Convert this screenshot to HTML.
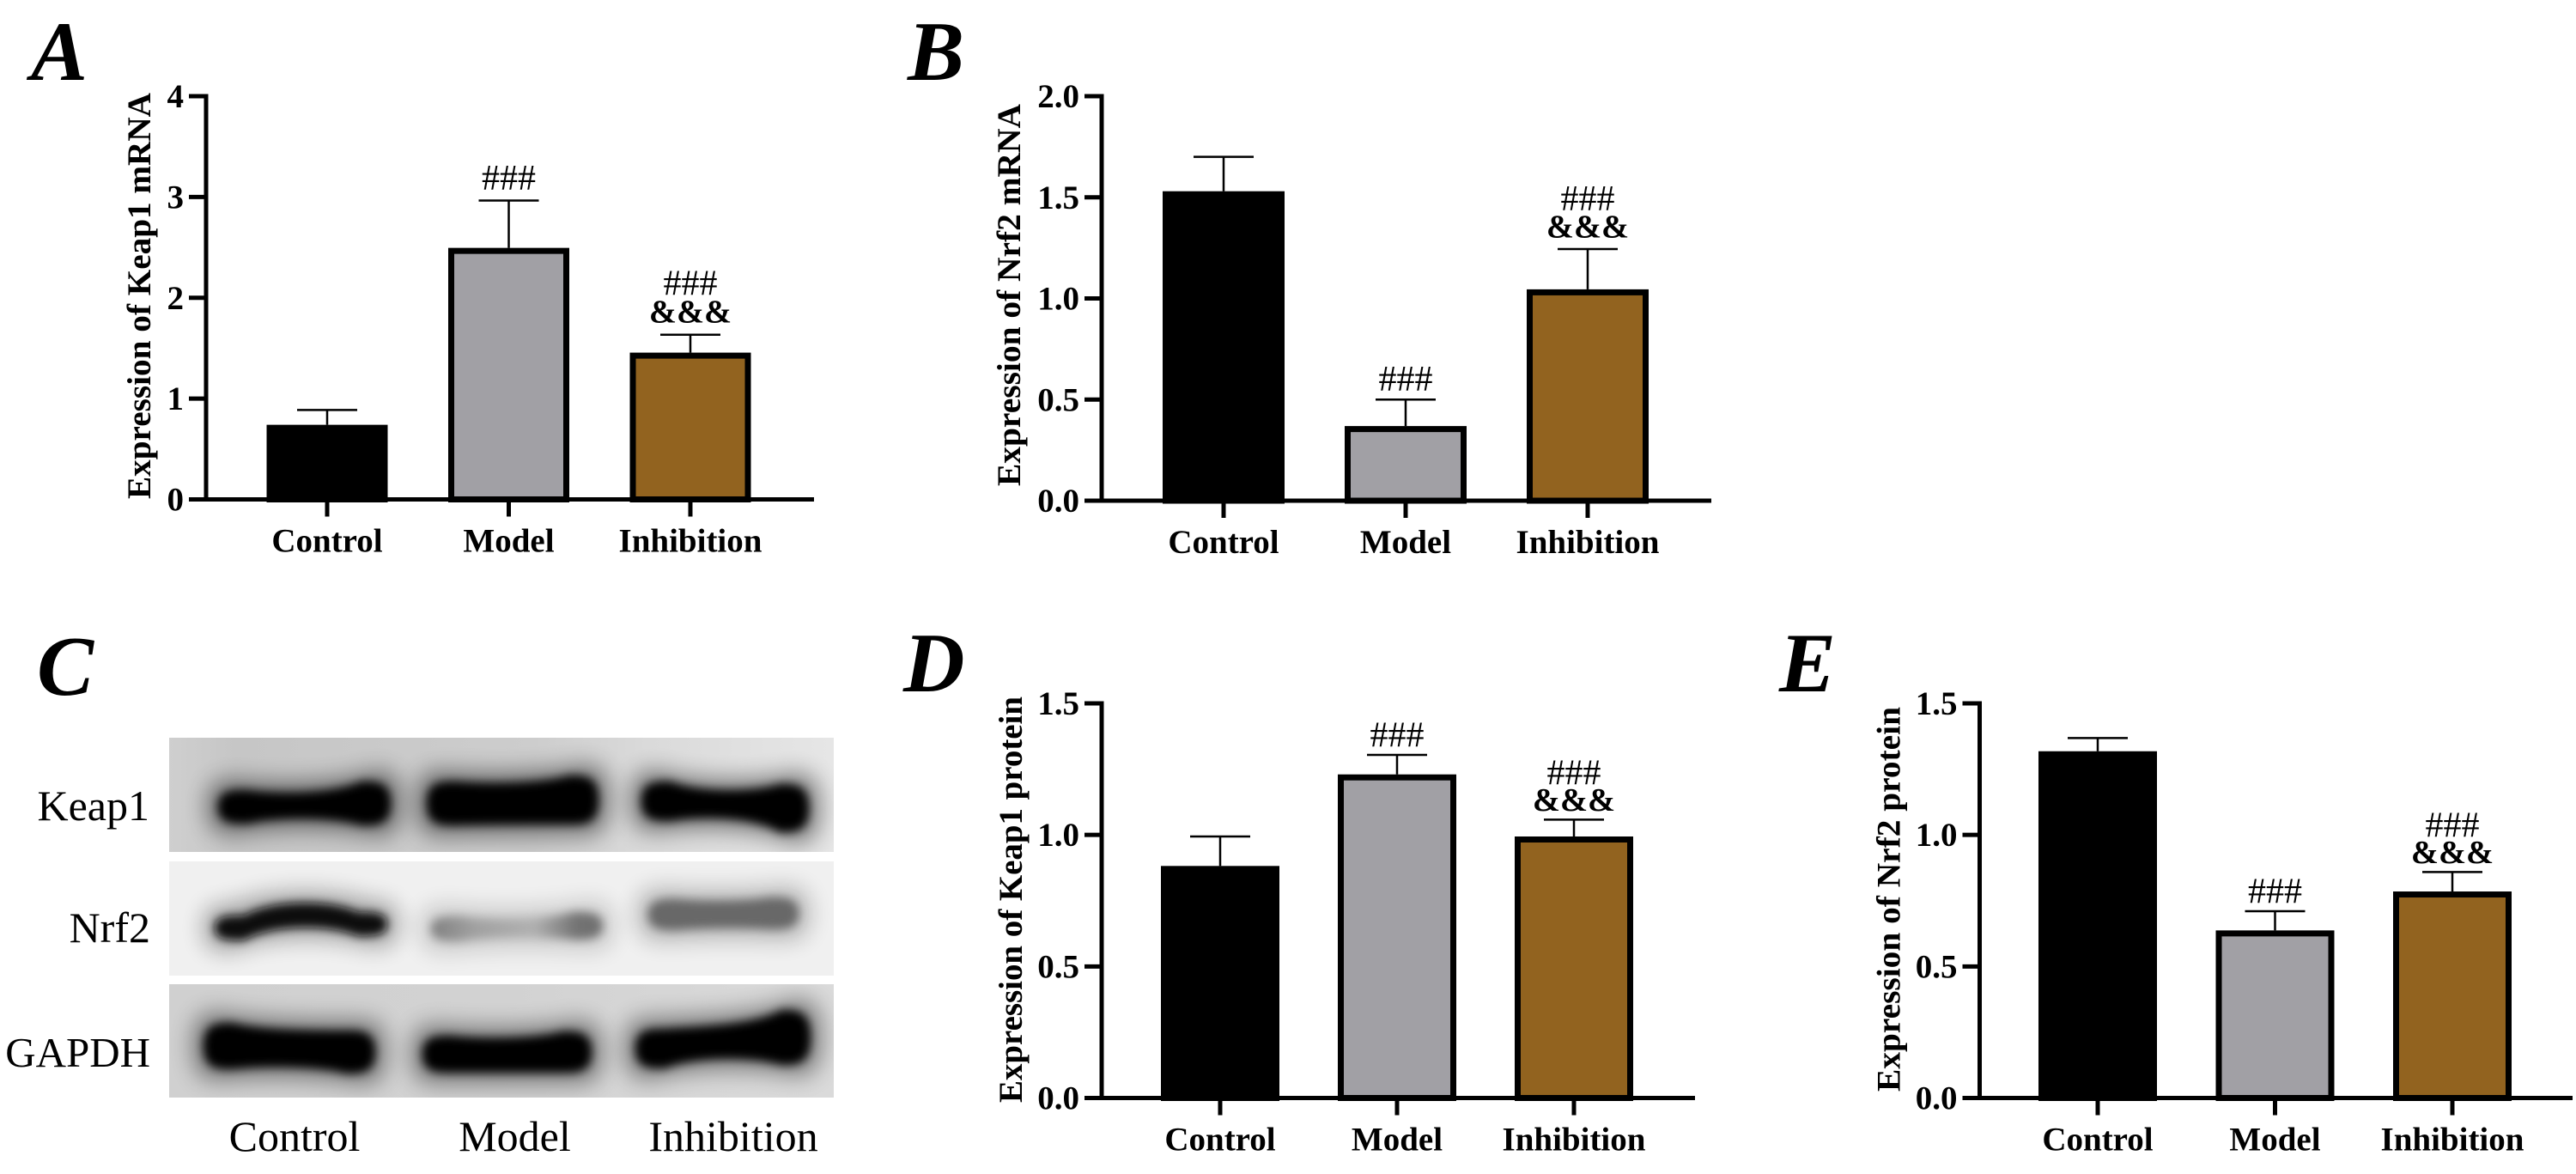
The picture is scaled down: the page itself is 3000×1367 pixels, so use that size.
<!DOCTYPE html>
<html lang="en">
<head>
<meta charset="utf-8">
<title>Keap1 and Nrf2 expression</title>
<style>
html,body{margin:0;padding:0;background:#fff;width:3000px;height:1367px;overflow:hidden}
svg{display:block}
text{font-family:"Liberation Serif",serif}
</style>
</head>
<body>
<svg id="figure" xmlns="http://www.w3.org/2000/svg" width="3000" height="1367" viewBox="0 0 3000 1367">
  <defs>
    <filter id="core-blur" x="-20%" y="-80%" width="140%" height="260%"><feGaussianBlur stdDeviation="5.5"/></filter>
    <filter id="halo-blur" x="-30%" y="-120%" width="160%" height="340%"><feGaussianBlur stdDeviation="13"/></filter>
    <clipPath id="clip-row-1"><rect x="197" y="859" width="774" height="133"/></clipPath>
    <clipPath id="clip-row-2"><rect x="197" y="1003" width="774" height="133"/></clipPath>
    <clipPath id="clip-row-3"><rect x="197" y="1146" width="774" height="132"/></clipPath>
    <linearGradient id="row-1-fill" x1="0" x2="1" y1="0" y2="0">
      <stop offset="0" stop-color="#cfcfcf"/><stop offset="0.1" stop-color="#c6c6c6"/>
      <stop offset="0.55" stop-color="#cdcdcd"/><stop offset="0.72" stop-color="#dadada"/>
      <stop offset="1" stop-color="#e6e6e6"/>
    </linearGradient>
    <linearGradient id="row-3-fill" x1="0" x2="1" y1="0" y2="0">
      <stop offset="0" stop-color="#d0d0d0"/><stop offset="0.5" stop-color="#d2d2d2"/>
      <stop offset="1" stop-color="#dadada"/>
    </linearGradient>
    <linearGradient id="nrf2-model-fill" x1="0" x2="1" y1="0" y2="0">
      <stop offset="0" stop-color="#808080"/><stop offset="0.25" stop-color="#a0a0a0"/>
      <stop offset="0.6" stop-color="#b0b0b0"/><stop offset="0.85" stop-color="#727272"/>
      <stop offset="1" stop-color="#707070"/>
    </linearGradient>
  </defs>

  <text x="36" y="93" font-size="99" font-weight="bold" font-style="italic">A</text>
  <text x="1057" y="93" font-size="99" font-weight="bold" font-style="italic">B</text>
  <text x="43" y="809" font-size="99" font-weight="bold" font-style="italic">C</text>
  <text x="1052" y="805" font-size="99" font-weight="bold" font-style="italic">D</text>
  <text x="2072" y="805" font-size="99" font-weight="bold" font-style="italic">E</text>

  <g id="blot">
    <rect x="197" y="859" width="774" height="133" fill="url(#row-1-fill)"/>
    <rect x="197" y="1003" width="774" height="133" fill="#f0f0f0"/>
    <rect x="197" y="1146" width="774" height="132" fill="url(#row-3-fill)"/>
    <g id="row-1" clip-path="url(#clip-row-1)"></g>
    <g id="row-2" clip-path="url(#clip-row-2)"></g>
    <g id="row-3" clip-path="url(#clip-row-3)"></g>
    <text x="174" y="955" font-size="50" text-anchor="end">Keap1</text>
    <text x="175" y="1097" font-size="50" text-anchor="end">Nrf2</text>
    <text x="175" y="1242" font-size="49" text-anchor="end">GAPDH</text>
    <text x="343" y="1340" font-size="50" text-anchor="middle">Control</text>
    <text x="599.5" y="1340" font-size="50" text-anchor="middle">Model</text>
    <text x="854" y="1340" font-size="50" text-anchor="middle">Inhibition</text>
  </g>
</svg>

<script>
// ---- chart data ----
const categories = ['Control', 'Model', 'Inhibition'];
const barColors = ['#000000', '#a1a0a5', '#92631f'];

const keap1MrnaValues = [0.74, 2.495, 1.456];
const keap1MrnaErrors = [0.147, 0.47, 0.178];
const keap1MrnaTicks = [0, 1, 2, 3, 4];
const keap1MrnaTickLabels = ['0', '1', '2', '3', '4'];
const keap1MrnaMarks = [[], ['###'], ['###', '&&&']];

const nrf2MrnaValues = [1.53, 0.369, 1.045];
const nrf2MrnaErrors = [0.17, 0.131, 0.199];
const nrf2MrnaTicks = [0, 0.5, 1, 1.5, 2];
const nrf2MrnaTickLabels = ['0.0', '0.5', '1.0', '1.5', '2.0'];
const nrf2MrnaMarks = [[], ['###'], ['###', '&&&']];

const keap1ProteinValues = [0.882, 1.23, 0.994];
const keap1ProteinErrors = [0.112, 0.074, 0.064];
const keap1ProteinTicks = [0, 0.5, 1, 1.5];
const keap1ProteinTickLabels = ['0.0', '0.5', '1.0', '1.5'];
const keap1ProteinMarks = [[], ['###'], ['###', '&&&']];

const nrf2ProteinValues = [1.318, 0.637, 0.785];
const nrf2ProteinErrors = [0.05, 0.073, 0.074];
const nrf2ProteinTicks = [0, 0.5, 1, 1.5];
const nrf2ProteinTickLabels = ['0.0', '0.5', '1.0', '1.5'];
const nrf2ProteinMarks = [[], ['###'], ['###', '&&&']];

const NS = 'http://www.w3.org/2000/svg';
const figure = document.getElementById('figure');

function make(parent, tag, attrs, text) {
  const el = document.createElementNS(NS, tag);
  for (const k in attrs) el.setAttribute(k, attrs[k]);
  if (text !== undefined) el.textContent = text;
  parent.appendChild(el);
  return el;
}

function drawChart(cfg) {
  const g = make(figure, 'g', {});
  
  

  const yMax = cfg.ticks[cfg.ticks.length - 1];
  const yScale = v => cfg.yBase - (v / yMax) * (cfg.yBase - cfg.yTop);
  const xScale = i => cfg.firstCenter + i * cfg.step;
  const inset = 3.5;

  // bars and error bars
  categories.forEach((cat, i) => {
    const top = yScale(cfg.values[i]);
    const errTop = yScale(cfg.values[i] + cfg.errors[i]);
    const cx = xScale(i);

    const stem = make(g, 'line', { x1: cx, x2: cx, y1: errTop, y2: top, stroke: '#000', 'stroke-width': 2.5 });
    
    

    const cap = make(g, 'line', { x1: cx - 35, x2: cx + 35, y1: errTop, y2: errTop, stroke: '#000', 'stroke-width': 2.5 });
    
    

    const bar = make(g, 'rect', {
      x: cx - cfg.barWidth / 2 + inset,
      y: top + inset,
      width: cfg.barWidth - 2 * inset,
      height: Math.max(0, cfg.yBase - top - inset),
      fill: barColors[i], stroke: '#000', 'stroke-width': 7
    });
    
    

    // significance marks stacked above the error cap
    const marks = cfg.marks[i];
    marks.forEach((mark, m) => {
      const isHash = mark[0] === '#';
      const fromCap = marks.length === 1 ? cfg.singleGap : (isHash ? cfg.upperGap : cfg.lowerGap);
      const t = make(g, 'text', {
        x: cx, y: errTop - fromCap, 'text-anchor': 'middle',
        'font-size': isHash ? 42 : 38.5, 'font-weight': isHash ? 'normal' : 'bold'
      }, mark);
      
      
    });

    const tick = make(g, 'line', { x1: cx, x2: cx, y1: cfg.yBase, y2: cfg.yBase + 20, stroke: '#000', 'stroke-width': 5 });
    
    

    const label = make(g, 'text', {
      x: cx, y: cfg.yBase + 61, 'text-anchor': 'middle', 'font-size': 39, 'font-weight': 'bold'
    }, cat);
    
    
  });

  // axes
  const yAxis = make(g, 'line', { x1: cfg.axisX, x2: cfg.axisX, y1: cfg.yTop - 2.5, y2: cfg.yBase + 2.5, stroke: '#000', 'stroke-width': 5 });
  
  

  const xAxis = make(g, 'line', { x1: cfg.axisX - 20, x2: cfg.xEnd, y1: cfg.yBase, y2: cfg.yBase, stroke: '#000', 'stroke-width': 5 });
  
  

  cfg.ticks.forEach((v, i) => {
    const y = yScale(v);
    const tick = make(g, 'line', { x1: cfg.axisX - 20, x2: cfg.axisX, y1: y, y2: y, stroke: '#000', 'stroke-width': 5 });
    
    

    const label = make(g, 'text', {
      x: cfg.axisX - 26, y: y + 13, 'text-anchor': 'end', 'font-size': 39, 'font-weight': 'bold'
    }, cfg.tickLabels[i]);
    
    
  });

  // y-axis title
  const cy = (cfg.titleStart + cfg.titleEnd) / 2;
  const title = make(g, 'text', {
    x: cfg.titleX, y: cy, 'text-anchor': 'middle', 'font-size': 39, 'font-weight': 'bold',
    transform: 'rotate(-90 ' + cfg.titleX + ' ' + cy + ')',
    textLength: cfg.titleStart - cfg.titleEnd, lengthAdjust: 'spacingAndGlyphs'
  }, cfg.title);
  
  
}

drawChart({
  name: 'keap1-mrna', title: 'Expression of Keap1 mRNA',
  values: keap1MrnaValues, errors: keap1MrnaErrors, ticks: keap1MrnaTicks,
  tickLabels: keap1MrnaTickLabels, marks: keap1MrnaMarks,
  axisX: 240, yTop: 112, yBase: 581.5, xEnd: 948,
  firstCenter: 381, step: 211.5, barWidth: 141,
  singleGap: 12.5, lowerGap: 14, upperGap: 46,
  titleX: 175, titleStart: 581, titleEnd: 108
});
drawChart({
  name: 'nrf2-mrna', title: 'Expression of Nrf2 mRNA',
  values: nrf2MrnaValues, errors: nrf2MrnaErrors, ticks: nrf2MrnaTicks,
  tickLabels: nrf2MrnaTickLabels, marks: nrf2MrnaMarks,
  axisX: 1283, yTop: 112, yBase: 583, xEnd: 1993,
  firstCenter: 1425, step: 212, barWidth: 142,
  singleGap: 10.5, lowerGap: 13.5, upperGap: 45,
  titleX: 1188, titleStart: 566, titleEnd: 121
});
drawChart({
  name: 'keap1-protein', title: 'Expression of Keap1 protein',
  values: keap1ProteinValues, errors: keap1ProteinErrors, ticks: keap1ProteinTicks,
  tickLabels: keap1ProteinTickLabels, marks: keap1ProteinMarks,
  axisX: 1283, yTop: 819, yBase: 1278.5, xEnd: 1974,
  firstCenter: 1421, step: 206, barWidth: 138,
  singleGap: 9.5, lowerGap: 10.5, upperGap: 41,
  titleX: 1190, titleStart: 1284, titleEnd: 811
});
drawChart({
  name: 'nrf2-protein', title: 'Expression of Nrf2 protein',
  values: nrf2ProteinValues, errors: nrf2ProteinErrors, ticks: nrf2ProteinTicks,
  tickLabels: nrf2ProteinTickLabels, marks: nrf2ProteinMarks,
  axisX: 2305.5, yTop: 819, yBase: 1278.5, xEnd: 2996,
  firstCenter: 2443, step: 206.5, barWidth: 138,
  singleGap: 9.5, lowerGap: 10.5, upperGap: 41,
  titleX: 2212.5, titleStart: 1271, titleEnd: 823
});

// ---- western-blot bands (picture content, not chart data) ----
function bandPath(x0, x1, t, b, grow) {
  const l = x0 - grow, r = x1 + grow, w = r - l, e = Math.min(34, w / 5);
  const tl = t[0] - grow, tm = t[1] - grow, tr = t[2] - grow;
  const bl = b[0] + grow, bm = b[1] + grow, br = b[2] + grow;
  return 'M' + l + ' ' + (tl + bl) / 2 +
    ' C' + l + ' ' + tl + ' ' + (l + e / 2) + ' ' + tl + ' ' + (l + e) + ' ' + tl +
    ' C' + (l + w / 3) + ' ' + tm + ' ' + (r - w / 3) + ' ' + tm + ' ' + (r - e) + ' ' + tr +
    ' C' + (r - e / 2) + ' ' + tr + ' ' + r + ' ' + tr + ' ' + r + ' ' + (tr + br) / 2 +
    ' C' + r + ' ' + br + ' ' + (r - e / 2) + ' ' + br + ' ' + (r - e) + ' ' + br +
    ' C' + (r - w / 3) + ' ' + bm + ' ' + (l + w / 3) + ' ' + bm + ' ' + (l + e) + ' ' + bl +
    ' C' + (l + e / 2) + ' ' + bl + ' ' + l + ' ' + bl + ' ' + l + ' ' + (tl + bl) / 2 + 'Z';
}

function band(rowId, name, x0, x1, tops, bottoms, color, haloOpacity) {
  const row = document.getElementById(rowId);
  const g = make(row, 'g', {});
  
  
  make(g, 'path', { d: bandPath(x0, x1, tops, bottoms, 13), fill: '#000', opacity: haloOpacity, filter: 'url(#halo-blur)' });
  make(g, 'path', { d: bandPath(x0, x1, tops, bottoms, 0), fill: color, filter: 'url(#core-blur)' });
}

band('row-1', 'keap1-band-control', 254, 455, [920, 925, 910], [959, 951, 961], '#000', 0.45);
band('row-1', 'keap1-band-model', 497, 697, [910, 913, 903], [961, 960, 960], '#000', 0.45);
band('row-1', 'keap1-band-inhibition', 747, 942, [910, 923, 913], [956, 950, 969], '#000', 0.45);

band('row-2', 'nrf2-band-control', 250, 451, [1066, 1047, 1062], [1095, 1076, 1090], '#0c0c0c', 0.32);
band('row-2', 'nrf2-band-model', 502, 702, [1067, 1072, 1062], [1096, 1090, 1094], 'url(#nrf2-model-fill)', 0.16);
band('row-2', 'nrf2-band-inhibition', 755, 930, [1047, 1050, 1045], [1083, 1080, 1082], '#686868', 0.24);

band('row-3', 'gapdh-band-control', 237, 437, [1191, 1200, 1200], [1245, 1241, 1250], '#000', 0.42);
band('row-3', 'gapdh-band-model', 492, 689, [1206, 1210, 1201], [1249, 1249, 1249], '#000', 0.42);
band('row-3', 'gapdh-band-inhibition', 740, 944, [1198, 1195, 1176], [1244, 1230, 1240], '#000', 0.42);
</script>
</body>
</html>
